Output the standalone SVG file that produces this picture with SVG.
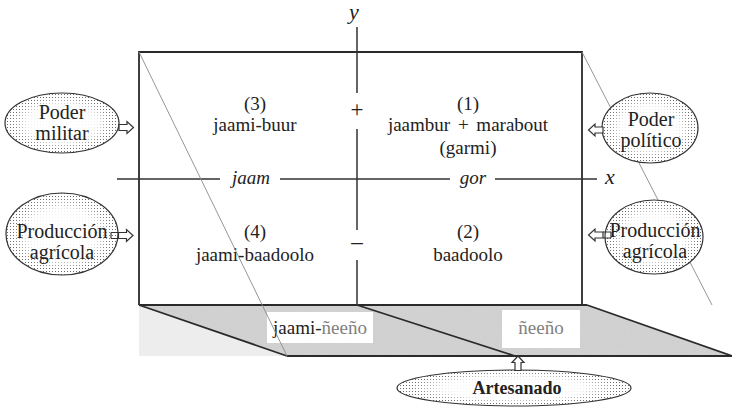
<svg xmlns="http://www.w3.org/2000/svg" width="732" height="407" viewBox="0 0 732 407">
<defs>
  <pattern id="dots" width="3" height="3" patternUnits="userSpaceOnUse">
    <rect width="3" height="3" fill="#ffffff"/>
    <rect x="1" y="1" width="1" height="1" fill="#6a6a6a"/>
  </pattern>
  <radialGradient id="fade" cx="0.5" cy="0.5" r="0.5">
    <stop offset="0" stop-color="#fff" stop-opacity="1"/>
    <stop offset="0.6" stop-color="#fff" stop-opacity="0.9"/>
    <stop offset="0.88" stop-color="#fff" stop-opacity="0"/>
  </radialGradient>
  <filter id="grain" x="0" y="0" width="100%" height="100%">
    <feTurbulence type="fractalNoise" baseFrequency="0.7" numOctaves="3" seed="4" result="n"/>
    <feColorMatrix in="n" type="matrix" values="0 0 0 0 0.6  0 0 0 0 0.6  0 0 0 0 0.6  0 0 0 1.4 -0.55" result="g"/>
    <feComposite in="g" in2="SourceGraphic" operator="in" result="gm"/>
    <feMerge><feMergeNode in="SourceGraphic"/><feMergeNode in="gm"/></feMerge>
  </filter>
  <path id="arrR" d="M0,-3 H8 V-6 L14.5,0 L8,6 V3 H0 Z" fill="#fff" stroke="#333" stroke-width="1.2"/>
</defs>

<g id="floor">
  <polygon points="139,305 287,356 139,356" fill="#ededed"/>
  <polygon points="139,305 587,305 732,356 287,356" fill="#d2d2d2" filter="url(#grain)"/>
  <rect x="267" y="312" width="106" height="31" fill="#fff"/>
  <rect x="502" y="310" width="78" height="38" fill="#fff"/>
  <path d="M139,305 L287,356 M357,305 L515,356 M587,305 L732,356 M287,356 H732 M139,305 H587" stroke="#2a2a2a" stroke-width="1.8" fill="none"/>
</g>

<g id="box">
  <path d="M139,305 V52 H582 V305" stroke="#2a2a2a" stroke-width="1.8" fill="none"/>
</g>

<path d="M582,52 L712,305" stroke="#8a8a8a" stroke-width="0.9" fill="none"/>

<g id="axes" stroke="#333" stroke-width="1.5" fill="none">
  <path d="M357,27 V93 M357,129 V230 M357,260 V305"/>
  <path d="M117,179 H220 M280,179 H450 M495,179 H597"/>
</g>

<g font-family="Liberation Serif" font-size="19" fill="#222" text-anchor="middle">
  <g id="floor-labels">
    <text x="320" y="334">jaami-<tspan fill="#808080">ñeeño</tspan></text>
    <text x="541" y="334" fill="#808080">ñeeño</text>
  </g>
  <g id="axis-labels">
    <text x="354" y="19" font-style="italic" font-size="22">y</text>
    <text x="610" y="184" font-style="italic" font-size="22">x</text>
    <text x="251" y="184" font-style="italic">jaam</text>
    <text x="473" y="184" font-style="italic">gor</text>
    <text x="357" y="117" font-size="23">+</text>
    <text x="357" y="249" font-size="23">–</text>
  </g>
  <g id="q3">
    <text x="255" y="110">(3)</text>
    <text x="255" y="131">jaami-buur</text>
  </g>
  <g id="q1">
    <text x="468" y="110">(1)</text>
    <text x="468" y="131" word-spacing="3">jaambur + marabout</text>
    <text x="468" y="154">(garmi)</text>
  </g>
  <g id="q4">
    <text x="255" y="238">(4)</text>
    <text x="255" y="261">jaami-baadoolo</text>
  </g>
  <g id="q2">
    <text x="468" y="238">(2)</text>
    <text x="468" y="261">baadoolo</text>
  </g>
</g>

<path d="M139,52 L287,356" stroke="#8a8a8a" stroke-width="0.9" fill="none"/>

<g font-family="Liberation Serif" font-size="20" fill="#222" text-anchor="middle">
  <g id="poder-militar">
    <ellipse cx="62" cy="123" rx="57" ry="30" fill="url(#dots)" stroke="#333" stroke-width="1.2"/>
    <ellipse cx="62" cy="123" rx="57" ry="30" fill="url(#fade)"/>
    <text x="62" y="119">Poder</text>
    <text x="62" y="140">militar</text>
  </g>
  <g id="produccion-izq">
    <ellipse cx="62" cy="234" rx="56" ry="41" fill="url(#dots)" stroke="#333" stroke-width="1.2"/>
    <ellipse cx="62" cy="234" rx="56" ry="41" fill="url(#fade)"/>
    <text x="62" y="238">Producción</text>
    <text x="62" y="259">agrícola</text>
  </g>
  <g id="poder-politico">
    <ellipse cx="650" cy="128" rx="48" ry="35" fill="url(#dots)" stroke="#333" stroke-width="1.2"/>
    <ellipse cx="650" cy="128" rx="48" ry="35" fill="url(#fade)"/>
    <text x="651" y="126">Poder</text>
    <text x="651" y="147">político</text>
  </g>
  <g id="produccion-der">
    <ellipse cx="654" cy="237" rx="49" ry="37" fill="url(#dots)" stroke="#333" stroke-width="1.2"/>
    <ellipse cx="654" cy="237" rx="49" ry="37" fill="url(#fade)"/>
    <text x="655" y="237">Producción</text>
    <text x="655" y="258">agrícola</text>
  </g>
  <g id="artesanado">
    <ellipse cx="514" cy="388" rx="117" ry="18" fill="url(#dots)" stroke="#333" stroke-width="1.2"/>
    <ellipse cx="514" cy="388" rx="117" ry="18" fill="url(#fade)"/>
    <text x="517" y="394" font-size="18" font-weight="bold">Artesanado</text>
  </g>
</g>

<g id="connectors">
  <use href="#arrR" transform="translate(119,127.5)"/>
  <use href="#arrR" transform="translate(118.5,235.5)"/>
  <use href="#arrR" transform="translate(603,130) scale(-1,1)"/>
  <use href="#arrR" transform="translate(603,235) scale(-1,1)"/>
  <path d="M606,232 H611 V238 H606 Z" fill="#fff" stroke="none"/>
  <path d="M111,232.5 H119 M111,238.5 H119 M111,232.5 V238.5" stroke="#333" stroke-width="1.2" fill="none"/>
  <path d="M603,232 H611 M603,238 H611 M611,232 V238" stroke="#333" stroke-width="1.2" fill="none"/>
  <use href="#arrR" transform="translate(518,370.5) rotate(-90)"/>
</g>
</svg>
